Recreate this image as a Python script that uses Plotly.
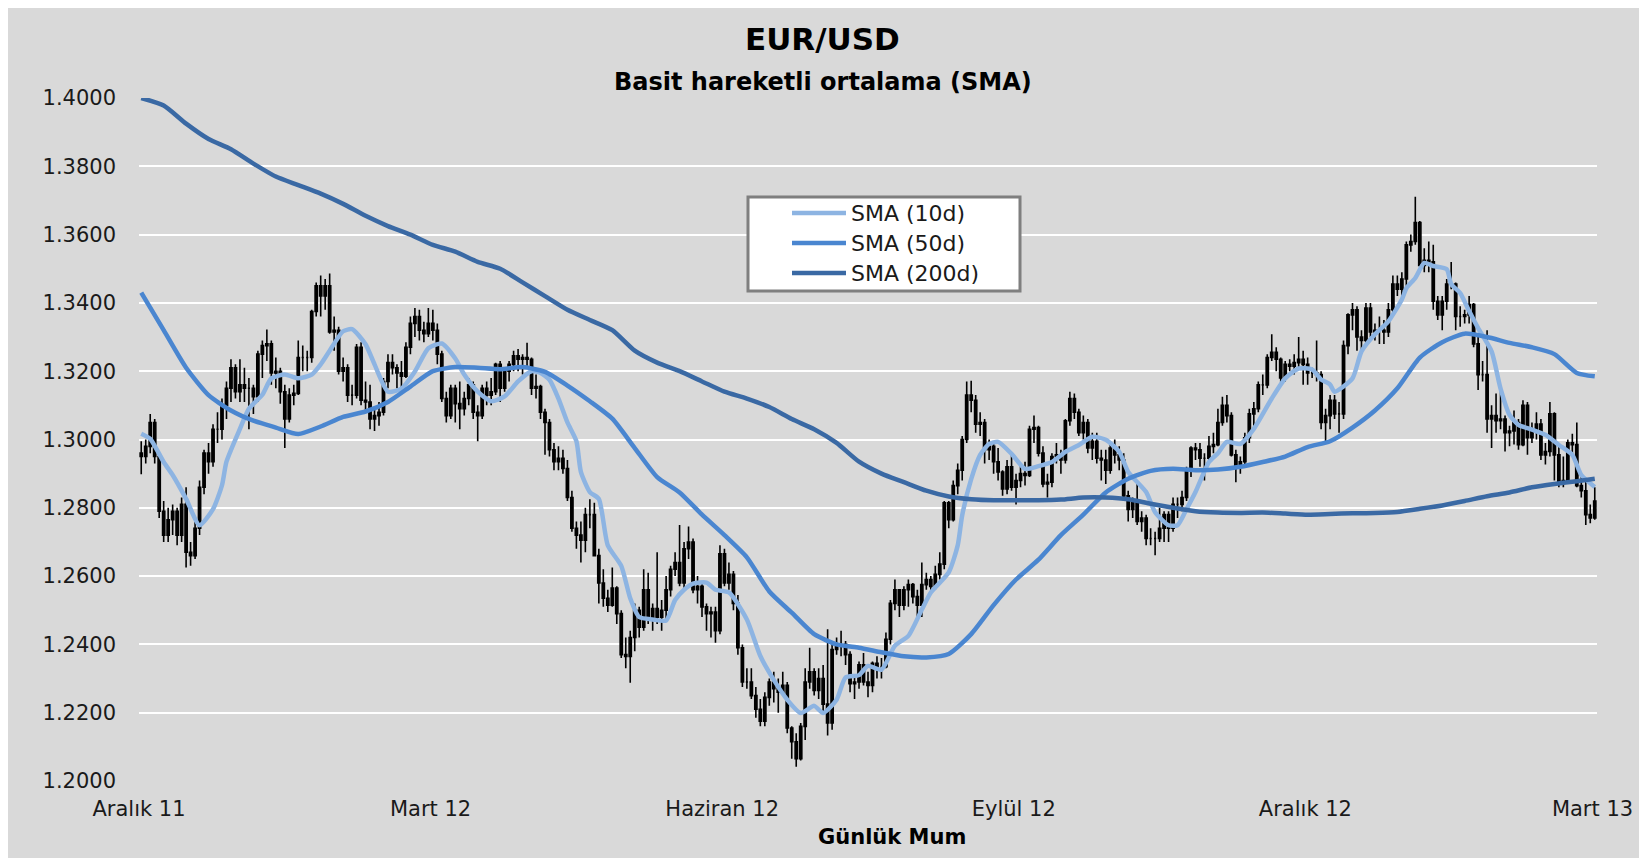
import plotly.graph_objects as go

# ---------------- data (daily EUR/USD candles) ----------------
opens = [
    1.2960, 1.2950, 1.2980, 1.3050, 1.2950, 1.2790, 1.2720, 1.2765, 1.2790, 1.2720,
    1.2810, 1.2670, 1.2660, 1.2740, 1.2860, 1.2960, 1.2935, 1.3030, 1.3030, 1.3100,
    1.3150, 1.3210, 1.3140, 1.3160, 1.3150, 1.3150, 1.3125, 1.3250, 1.3275, 1.3280,
    1.3195, 1.3200, 1.3140, 1.3060, 1.3130, 1.3135, 1.3240, 1.3240, 1.3240, 1.3375,
    1.3450, 1.3420, 1.3450, 1.3315, 1.3320, 1.3200, 1.3210, 1.3130, 1.3130, 1.3270,
    1.3115, 1.3110, 1.3060, 1.3070, 1.3080, 1.3170, 1.3225, 1.3210, 1.3195, 1.3185,
    1.3270, 1.3340, 1.3360, 1.3320, 1.3310, 1.3340, 1.3320, 1.3250, 1.3120, 1.3070,
    1.3150, 1.3105, 1.3090, 1.3120, 1.3160, 1.3080, 1.3070, 1.3150, 1.3130, 1.3140,
    1.3220, 1.3150, 1.3200, 1.3220, 1.3245, 1.3235, 1.3240, 1.3235, 1.3150, 1.3155,
    1.3080, 1.3050, 1.2970, 1.2935, 1.2945, 1.2915, 1.2830, 1.2740, 1.2720, 1.2705,
    1.2780, 1.2780, 1.2660, 1.2580, 1.2535, 1.2515, 1.2565, 1.2490, 1.2370, 1.2365,
    1.2420, 1.2500, 1.2450, 1.2560, 1.2480, 1.2505, 1.2480, 1.2500, 1.2560, 1.2620,
    1.2640, 1.2580, 1.2680, 1.2700, 1.2560, 1.2570, 1.2510, 1.2490, 1.2495, 1.2440,
    1.2665, 1.2580, 1.2605, 1.2520, 1.2390, 1.2290, 1.2290, 1.2250, 1.2210, 1.2175,
    1.2245, 1.2290, 1.2270, 1.2260, 1.2280, 1.2155, 1.2115, 1.2065, 1.2160, 1.2290,
    1.2320, 1.2265, 1.2300, 1.2225, 1.2170, 1.2385, 1.2400, 1.2400, 1.2370, 1.2285,
    1.2290, 1.2340, 1.2290, 1.2280, 1.2345, 1.2335, 1.2335, 1.2415, 1.2520, 1.2560,
    1.2515, 1.2560, 1.2575, 1.2540, 1.2515, 1.2575, 1.2590, 1.2570, 1.2605, 1.2635,
    1.2815, 1.2765, 1.2865, 1.2910, 1.3000, 1.3130, 1.3115, 1.3045, 1.3050, 1.2970,
    1.2980, 1.2935, 1.2905, 1.2855, 1.2920, 1.2860, 1.2880, 1.2900, 1.2895, 1.3030,
    1.3035, 1.2960, 1.2870, 1.2875, 1.2950, 1.2955, 1.2940, 1.3055, 1.3120, 1.3080,
    1.3020, 1.3050, 1.2975, 1.2995, 1.2945, 1.2940, 1.2910, 1.2975, 1.2955, 1.2940,
    1.2835, 1.2795, 1.2815, 1.2760, 1.2770, 1.2710, 1.2710, 1.2710, 1.2740, 1.2780,
    1.2740, 1.2810, 1.2810, 1.2830, 1.2910, 1.2975, 1.2970, 1.2945, 1.2945, 1.2980,
    1.2985, 1.3050, 1.3100, 1.3070, 1.2955, 1.2925, 1.2935, 1.3005, 1.3075, 1.3090,
    1.3160, 1.3160, 1.3240, 1.3255, 1.3235, 1.3180, 1.3220, 1.3215, 1.3225, 1.3235,
    1.3220, 1.3195, 1.3195, 1.3190, 1.3050, 1.3070, 1.3115, 1.3075, 1.3075, 1.3275,
    1.3365, 1.3380, 1.3300, 1.3290, 1.3385, 1.3315, 1.3320, 1.3320, 1.3315, 1.3380,
    1.3455, 1.3440, 1.3470, 1.3570, 1.3580, 1.3635, 1.3510, 1.3525, 1.3520, 1.3405,
    1.3365, 1.3405, 1.3455, 1.3455, 1.3360, 1.3360, 1.3365, 1.3395, 1.3280, 1.3190,
    1.3190, 1.3060, 1.3070, 1.3055, 1.3060, 1.3020, 1.3025, 1.3050, 1.2985, 1.3100,
    1.3005, 1.3025, 1.3045, 1.2955, 1.2965, 1.3075, 1.2955, 1.2875, 1.2880, 1.2990,
    1.2985, 1.2865, 1.2850, 1.2780, 1.2770,
]
highs = [
    1.2995, 1.3000, 1.3075, 1.3060, 1.2960, 1.2820, 1.2800, 1.2810, 1.2800, 1.2830,
    1.2860, 1.2700, 1.2760, 1.2880, 1.2970, 1.2990, 1.3045, 1.3080, 1.3120, 1.3170,
    1.3235, 1.3220, 1.3235, 1.3210, 1.3180, 1.3160, 1.3260, 1.3290, 1.3322, 1.3290,
    1.3240, 1.3210, 1.3160, 1.3150, 1.3160, 1.3290, 1.3275, 1.3260, 1.3380, 1.3460,
    1.3480, 1.3470, 1.3486, 1.3360, 1.3330, 1.3240, 1.3220, 1.3160, 1.3280, 1.3285,
    1.3170, 1.3160, 1.3090, 1.3110, 1.3180, 1.3250, 1.3250, 1.3220, 1.3230, 1.3285,
    1.3360, 1.3385, 1.3380, 1.3345, 1.3385, 1.3380, 1.3340, 1.3260, 1.3140, 1.3160,
    1.3160, 1.3170, 1.3140, 1.3180, 1.3170, 1.3100, 1.3160, 1.3170, 1.3180, 1.3225,
    1.3230, 1.3210, 1.3230, 1.3260, 1.3265, 1.3250, 1.3283, 1.3240, 1.3190, 1.3160,
    1.3090, 1.3060, 1.2990, 1.2980, 1.2970, 1.2940, 1.2850, 1.2760, 1.2760, 1.2800,
    1.2825, 1.2815, 1.2680, 1.2620, 1.2560, 1.2625, 1.2570, 1.2500, 1.2420, 1.2440,
    1.2520, 1.2510, 1.2620, 1.2610, 1.2520, 1.2670, 1.2530, 1.2600, 1.2630, 1.2670,
    1.2750, 1.2700, 1.2745, 1.2710, 1.2600, 1.2580, 1.2520, 1.2510, 1.2510, 1.2690,
    1.2680, 1.2640, 1.2615, 1.2545, 1.2400, 1.2330, 1.2330, 1.2275, 1.2240, 1.2260,
    1.2300, 1.2320, 1.2300, 1.2320, 1.2290, 1.2160, 1.2140, 1.2170, 1.2330, 1.2390,
    1.2330, 1.2330, 1.2340, 1.2444, 1.2405, 1.2420, 1.2440, 1.2410, 1.2380, 1.2310,
    1.2350, 1.2375, 1.2320, 1.2350, 1.2365, 1.2360, 1.2435, 1.2530, 1.2590, 1.2560,
    1.2570, 1.2590, 1.2580, 1.2560, 1.2640, 1.2610, 1.2600, 1.2630, 1.2670, 1.2820,
    1.2820, 1.2880, 1.2930, 1.3010, 1.3170, 1.3172, 1.3130, 1.3080, 1.3060, 1.3000,
    1.2990, 1.2975, 1.2910, 1.2940, 1.2960, 1.2900, 1.2930, 1.2935, 1.3040, 1.3070,
    1.3040, 1.2980, 1.2900, 1.2960, 1.2990, 1.2970, 1.3060, 1.3140, 1.3135, 1.3090,
    1.3070, 1.3060, 1.3020, 1.3020, 1.2970, 1.2970, 1.2990, 1.3000, 1.2980, 1.2960,
    1.2850, 1.2830, 1.2880, 1.2790, 1.2780, 1.2740, 1.2730, 1.2800, 1.2790, 1.2790,
    1.2830, 1.2830, 1.2850, 1.2920, 1.2980, 1.2990, 1.2990, 1.2960, 1.3010, 1.3020,
    1.3090, 1.3125, 1.3130, 1.3080, 1.2970, 1.2950, 1.3020, 1.3090, 1.3110, 1.3170,
    1.3190, 1.3250, 1.3308, 1.3270, 1.3240, 1.3230, 1.3235, 1.3250, 1.3300, 1.3260,
    1.3240, 1.3210, 1.3290, 1.3200, 1.3090, 1.3130, 1.3130, 1.3110, 1.3290, 1.3370,
    1.3400, 1.3390, 1.3320, 1.3400, 1.3400, 1.3340, 1.3360, 1.3350, 1.3400, 1.3480,
    1.3480, 1.3490, 1.3580, 1.3600, 1.3711, 1.3640, 1.3560, 1.3580, 1.3570, 1.3420,
    1.3420, 1.3470, 1.3520, 1.3460, 1.3390, 1.3380, 1.3420, 1.3400, 1.3300, 1.3230,
    1.3320, 1.3100, 1.3135, 1.3150, 1.3070, 1.3040, 1.3085, 1.3060, 1.3115, 1.3110,
    1.3050, 1.3080, 1.3060, 1.2990, 1.3110, 1.3080, 1.2990, 1.2950, 1.3000, 1.3017,
    1.3050, 1.2900, 1.2880, 1.2810, 1.2860,
]
lows = [
    1.2898, 1.2930, 1.2960, 1.2930, 1.2770, 1.2700, 1.2700, 1.2720, 1.2690, 1.2700,
    1.2625, 1.2630, 1.2650, 1.2720, 1.2840, 1.2900, 1.2920, 1.2990, 1.3000, 1.3060,
    1.3110, 1.3120, 1.3110, 1.3110, 1.3030, 1.3075, 1.3110, 1.3180, 1.3230, 1.3160,
    1.3150, 1.3105, 1.2975, 1.3050, 1.3100, 1.3130, 1.3200, 1.3200, 1.3225, 1.3360,
    1.3360, 1.3380, 1.3310, 1.3260, 1.3190, 1.3170, 1.3110, 1.3100, 1.3120, 1.3100,
    1.3080, 1.3030, 1.3025, 1.3040, 1.3070, 1.3150, 1.3190, 1.3150, 1.3150, 1.3180,
    1.3250, 1.3300, 1.3290, 1.3285, 1.3300, 1.3290, 1.3220, 1.3110, 1.3050, 1.3060,
    1.3050, 1.3030, 1.3070, 1.3100, 1.3060, 1.2995, 1.3060, 1.3100, 1.3100, 1.3130,
    1.3110, 1.3140, 1.3170, 1.3200, 1.3200, 1.3190, 1.3210, 1.3130, 1.3120, 1.3060,
    1.2955, 1.2950, 1.2910, 1.2910, 1.2900, 1.2820, 1.2730, 1.2680, 1.2640, 1.2670,
    1.2740, 1.2660, 1.2520, 1.2510, 1.2495, 1.2510, 1.2460, 1.2360, 1.2330, 1.2288,
    1.2380, 1.2420, 1.2440, 1.2460, 1.2440, 1.2460, 1.2440, 1.2470, 1.2540, 1.2600,
    1.2570, 1.2560, 1.2650, 1.2550, 1.2520, 1.2480, 1.2440, 1.2420, 1.2405, 1.2430,
    1.2570, 1.2560, 1.2500, 1.2370, 1.2275, 1.2270, 1.2240, 1.2185, 1.2160, 1.2160,
    1.2220, 1.2230, 1.2200, 1.2250, 1.2140, 1.2065, 1.2042, 1.2060, 1.2120, 1.2270,
    1.2250, 1.2240, 1.2200, 1.2133, 1.2150, 1.2370, 1.2365, 1.2340, 1.2260, 1.2240,
    1.2270, 1.2280, 1.2245, 1.2260, 1.2300, 1.2300, 1.2330, 1.2400, 1.2500, 1.2480,
    1.2500, 1.2510, 1.2520, 1.2480, 1.2480, 1.2560, 1.2545, 1.2560, 1.2590, 1.2620,
    1.2740, 1.2760, 1.2840, 1.2880, 1.2990, 1.3080, 1.3020, 1.3010, 1.2930, 1.2940,
    1.2900, 1.2880, 1.2835, 1.2840, 1.2850, 1.2810, 1.2860, 1.2865, 1.2890, 1.2990,
    1.2950, 1.2860, 1.2830, 1.2860, 1.2930, 1.2900, 1.2930, 1.3040, 1.3060, 1.3010,
    1.3000, 1.2960, 1.2940, 1.2930, 1.2880, 1.2870, 1.2900, 1.2930, 1.2910, 1.2820,
    1.2760, 1.2770, 1.2750, 1.2730, 1.2690, 1.2690, 1.2661, 1.2700, 1.2700, 1.2700,
    1.2730, 1.2770, 1.2790, 1.2820, 1.2890, 1.2940, 1.2920, 1.2880, 1.2940, 1.2960,
    1.2980, 1.3040, 1.3050, 1.2950, 1.2875, 1.2900, 1.2920, 1.2990, 1.3040, 1.3080,
    1.3130, 1.3150, 1.3230, 1.3200, 1.3160, 1.3170, 1.3200, 1.3190, 1.3210, 1.3160,
    1.3160, 1.3180, 1.3170, 1.3030, 1.2995, 1.3030, 1.3060, 1.3020, 1.3060, 1.3250,
    1.3320, 1.3260, 1.3255, 1.3280, 1.3300, 1.3290, 1.3280, 1.3280, 1.3300, 1.3360,
    1.3420, 1.3420, 1.3450, 1.3550, 1.3570, 1.3490, 1.3490, 1.3490, 1.3380, 1.3350,
    1.3320, 1.3380, 1.3440, 1.3320, 1.3330, 1.3340, 1.3340, 1.3270, 1.3145, 1.3170,
    1.3020, 1.2975, 1.3020, 1.3030, 1.2965, 1.2980, 1.2985, 1.2970, 1.2980, 1.2955,
    1.2990, 1.3000, 1.2940, 1.2927, 1.2950, 1.2880, 1.2860, 1.2860, 1.2870, 1.2950,
    1.2860, 1.2830, 1.2750, 1.2755, 1.2765,
]
closes = [
    1.2950, 1.2980, 1.3050, 1.2950, 1.2790, 1.2720, 1.2765, 1.2790, 1.2720, 1.2810,
    1.2670, 1.2660, 1.2740, 1.2860, 1.2960, 1.2935, 1.3030, 1.3030, 1.3100, 1.3150,
    1.3210, 1.3140, 1.3160, 1.3150, 1.3150, 1.3125, 1.3250, 1.3275, 1.3280, 1.3195,
    1.3200, 1.3140, 1.3060, 1.3130, 1.3135, 1.3240, 1.3240, 1.3240, 1.3375, 1.3450,
    1.3420, 1.3450, 1.3315, 1.3320, 1.3200, 1.3210, 1.3130, 1.3130, 1.3270, 1.3115,
    1.3110, 1.3060, 1.3070, 1.3080, 1.3170, 1.3225, 1.3210, 1.3195, 1.3185, 1.3270,
    1.3340, 1.3360, 1.3320, 1.3310, 1.3340, 1.3320, 1.3250, 1.3120, 1.3070, 1.3150,
    1.3105, 1.3090, 1.3120, 1.3160, 1.3080, 1.3070, 1.3150, 1.3130, 1.3140, 1.3220,
    1.3150, 1.3200, 1.3220, 1.3245, 1.3235, 1.3240, 1.3235, 1.3150, 1.3155, 1.3080,
    1.3050, 1.2970, 1.2935, 1.2945, 1.2915, 1.2830, 1.2740, 1.2720, 1.2705, 1.2780,
    1.2780, 1.2660, 1.2580, 1.2535, 1.2515, 1.2565, 1.2490, 1.2370, 1.2365, 1.2420,
    1.2500, 1.2450, 1.2560, 1.2480, 1.2505, 1.2480, 1.2500, 1.2560, 1.2620, 1.2640,
    1.2580, 1.2680, 1.2700, 1.2560, 1.2570, 1.2510, 1.2490, 1.2495, 1.2440, 1.2665,
    1.2580, 1.2605, 1.2520, 1.2390, 1.2290, 1.2290, 1.2250, 1.2210, 1.2175, 1.2245,
    1.2290, 1.2270, 1.2260, 1.2280, 1.2155, 1.2115, 1.2065, 1.2160, 1.2290, 1.2320,
    1.2265, 1.2300, 1.2225, 1.2170, 1.2385, 1.2400, 1.2400, 1.2370, 1.2285, 1.2290,
    1.2340, 1.2290, 1.2280, 1.2345, 1.2335, 1.2335, 1.2415, 1.2520, 1.2560, 1.2515,
    1.2560, 1.2575, 1.2540, 1.2515, 1.2575, 1.2590, 1.2570, 1.2605, 1.2635, 1.2815,
    1.2765, 1.2865, 1.2910, 1.3000, 1.3130, 1.3115, 1.3045, 1.3050, 1.2970, 1.2980,
    1.2935, 1.2905, 1.2855, 1.2920, 1.2860, 1.2880, 1.2900, 1.2895, 1.3030, 1.3035,
    1.2960, 1.2870, 1.2875, 1.2950, 1.2955, 1.2940, 1.3055, 1.3120, 1.3080, 1.3020,
    1.3050, 1.2975, 1.2995, 1.2945, 1.2940, 1.2910, 1.2975, 1.2955, 1.2940, 1.2835,
    1.2795, 1.2815, 1.2760, 1.2770, 1.2710, 1.2710, 1.2710, 1.2740, 1.2780, 1.2740,
    1.2810, 1.2810, 1.2830, 1.2910, 1.2975, 1.2970, 1.2945, 1.2945, 1.2980, 1.2985,
    1.3050, 1.3100, 1.3070, 1.2955, 1.2925, 1.2935, 1.3005, 1.3075, 1.3090, 1.3160,
    1.3160, 1.3240, 1.3255, 1.3235, 1.3180, 1.3220, 1.3215, 1.3225, 1.3235, 1.3220,
    1.3195, 1.3195, 1.3190, 1.3050, 1.3070, 1.3115, 1.3075, 1.3075, 1.3275, 1.3365,
    1.3380, 1.3300, 1.3290, 1.3385, 1.3315, 1.3320, 1.3320, 1.3315, 1.3380, 1.3455,
    1.3440, 1.3470, 1.3570, 1.3580, 1.3635, 1.3510, 1.3525, 1.3520, 1.3405, 1.3365,
    1.3405, 1.3455, 1.3455, 1.3360, 1.3360, 1.3365, 1.3395, 1.3280, 1.3190, 1.3190,
    1.3060, 1.3070, 1.3055, 1.3060, 1.3020, 1.3025, 1.3050, 1.2985, 1.3100, 1.3005,
    1.3025, 1.3045, 1.2955, 1.2965, 1.3075, 1.2955, 1.2875, 1.2880, 1.2990, 1.2985,
    1.2865, 1.2850, 1.2780, 1.2770, 1.2820,
]
bar_index = list(range(len(closes)))

# SMA lines (bar index, value)
sma10_idx = [0, 2, 5, 7, 10, 13, 16, 18, 19, 22, 24, 27, 29, 32, 35, 38, 40, 42, 45, 47,
             50, 52, 55, 58, 61, 64, 67, 70, 72, 75, 78, 81, 84, 87, 89, 91, 93, 95, 97, 98,
             100, 102, 104, 107, 109, 111, 114, 117, 119, 121, 123, 126, 128, 131, 135, 138,
             141, 144, 147, 150, 152, 155, 157, 160, 162, 165, 168, 171, 174, 176, 180, 182,
             183, 185, 187, 189, 191, 194, 197, 200, 203, 206, 209, 212, 215, 218, 220, 224,
             226, 229, 231, 233, 235, 238, 240, 242, 245, 248, 252, 255, 258, 261, 263, 265,
             266, 270, 272, 275, 278, 281, 282, 284, 286, 288, 291, 292, 294, 296, 298, 301,
             303, 305, 307, 310, 313, 316, 319, 321, 324]
sma10 = [1.3017, 1.3002, 1.2934, 1.2896, 1.2826, 1.2749, 1.2796, 1.2866, 1.2935, 1.3031,
         1.3090, 1.3131, 1.3179, 1.3190, 1.3179, 1.3190, 1.3220, 1.3260, 1.3317, 1.3323,
         1.3279, 1.3220, 1.3140, 1.3149, 1.3199, 1.3267, 1.3281, 1.3237, 1.3190, 1.3140,
         1.3112, 1.3126, 1.3170, 1.3200, 1.3195, 1.3175, 1.3120, 1.3050, 1.2995, 1.2905,
         1.2846, 1.2826, 1.2690, 1.2630, 1.2535, 1.2480, 1.2473, 1.2470, 1.2530, 1.2560,
         1.2578, 1.2581, 1.2560, 1.2552, 1.2473, 1.2366, 1.2296, 1.2238, 1.2199, 1.2220,
         1.2199, 1.2238, 1.2303, 1.2310, 1.2337, 1.2326, 1.2396, 1.2425, 1.2502, 1.2552,
         1.2611, 1.2690, 1.2778, 1.2884, 1.2955, 1.2987, 1.2993, 1.2958, 1.2914, 1.2922,
         1.2934, 1.2964, 1.2984, 1.3008, 1.2999, 1.2964, 1.2905, 1.2846, 1.2787, 1.2749,
         1.2749, 1.2796, 1.2846, 1.2934, 1.2960, 1.2993, 1.2987, 1.3031, 1.3120, 1.3179,
         1.3208, 1.3205, 1.3176, 1.3161, 1.3140, 1.3179, 1.3258, 1.3308, 1.3346, 1.3410,
         1.3443, 1.3473, 1.3517, 1.3508, 1.3499, 1.3455, 1.3429, 1.3376, 1.3326, 1.3258,
         1.3149, 1.3072, 1.3043, 1.3029, 1.3014, 1.2984, 1.2955, 1.2896, 1.2861]

sma50_idx = list(range(0, 325, 5)) + [324]
sma50 = [1.3430, 1.3320, 1.3210, 1.3130, 1.3085, 1.3055, 1.3035, 1.3016, 1.3038, 1.3066,
         1.3082, 1.3110, 1.3155, 1.3200, 1.3212, 1.3210, 1.3206, 1.3212, 1.3198, 1.3158,
         1.3112, 1.3061, 1.2975, 1.2890, 1.2845, 1.2780, 1.2720, 1.2655, 1.2555, 1.2493,
         1.2430, 1.2400, 1.2390, 1.2377, 1.2365, 1.2362, 1.2372, 1.2430, 1.2515, 1.2590,
         1.2648, 1.2720, 1.2780, 1.2845, 1.2885, 1.2908, 1.2914, 1.2910, 1.2912, 1.2920,
         1.2934, 1.2950, 1.2978, 1.2995, 1.3035, 1.3085, 1.3150, 1.3240, 1.3285, 1.3310,
         1.3300, 1.3283, 1.3270, 1.3250, 1.3195, 1.3185]

sma200_idx = list(range(0, 325, 5)) + [324]
sma200 = [1.4000, 1.3978, 1.3925, 1.3880, 1.3850, 1.3808, 1.3770, 1.3745, 1.3720, 1.3690,
          1.3655, 1.3625, 1.3600, 1.3570, 1.3550, 1.3520, 1.3500, 1.3460, 1.3420, 1.3380,
          1.3350, 1.3320, 1.3260, 1.3225, 1.3200, 1.3170, 1.3140, 1.3120, 1.3095, 1.3060,
          1.3030, 1.2990, 1.2935, 1.2900, 1.2875, 1.2850, 1.2833, 1.2825, 1.2822, 1.2822,
          1.2822, 1.2824, 1.2830, 1.2830, 1.2825, 1.2812, 1.2800, 1.2790, 1.2786, 1.2785,
          1.2786, 1.2783, 1.2780, 1.2782, 1.2784, 1.2785, 1.2788, 1.2797, 1.2807, 1.2820,
          1.2834, 1.2845, 1.2860, 1.2870, 1.2878, 1.2885]

tick_positions = [-0.5, 64.5, 129.5, 194.5, 259.5, 323.5]
tick_labels = ["Aralık 11", "Mart 12", "Haziran 12", "Eylül 12", "Aralık 12", "Mart 13"]
series_names = ["SMA (10d)", "SMA (50d)", "SMA (200d)"]
series_colors = ["#8db4e2", "#4a86d0", "#3a69a4"]

# ---------------- figure ----------------
FONT = "DejaVu Sans"
TXT = "#1a1a1a"
BG = "#d9d9d9"

fig = go.Figure()
fig.add_trace(go.Candlestick(
    x=bar_index, open=opens, high=highs, low=lows, close=closes,
    increasing=dict(line=dict(color="black", width=1.6), fillcolor="black"),
    decreasing=dict(line=dict(color="black", width=1.6), fillcolor="black"),
    whiskerwidth=0, showlegend=False, hoverinfo="skip",
))
for xs, ys, nm, col in [(sma10_idx, sma10, series_names[0], series_colors[0]),
                        (sma50_idx, sma50, series_names[1], series_colors[1]),
                        (sma200_idx, sma200, series_names[2], series_colors[2])]:
    fig.add_trace(go.Scatter(x=xs, y=ys, mode="lines", name=nm, showlegend=False,
                             line=dict(color=col, width=4.5, shape="spline", smoothing=0.6)))

# figure sits inside the page's 8px body margin
W, H = 1631, 850
L, R, T, B = 131, 42, 90, 77
pw, ph = W - L - R, H - T - B


def px(x):
    return (x - L) / pw


def py(y):
    return (H - B - y) / ph


# legend box drawn like the original (wide box, long line samples)
shapes = [dict(type="rect", xref="paper", yref="paper",
               x0=px(740), x1=px(1012), y0=py(283), y1=py(189),
               fillcolor="white", line=dict(color="#7f7f7f", width=3), layer="above")]
annotations = []
row_y = [205, 235, 265]
for i in range(3):
    shapes.append(dict(type="line", xref="paper", yref="paper",
                       x0=px(784), x1=px(838), y0=py(row_y[i]), y1=py(row_y[i]),
                       line=dict(color=series_colors[i], width=4.5), layer="above"))
    annotations.append(dict(text=series_names[i], x=px(841), y=py(row_y[i]),
                            xref="paper", yref="paper", showarrow=False,
                            xanchor="left", yanchor="middle",
                            font=dict(size=22, color=TXT, family=FONT)))

annotations += [
    dict(text="<b>EUR/USD</b>", x=px(814), y=py(31), xref="paper", yref="paper",
         showarrow=False, font=dict(size=31, color="#000000", family=FONT),
         xanchor="center", yanchor="middle"),
    dict(text="<b>Basit hareketli ortalama (SMA)</b>", x=px(815), y=py(74),
         xref="paper", yref="paper", showarrow=False,
         font=dict(size=24, color="#000000", family=FONT),
         xanchor="center", yanchor="middle"),
    dict(text="<b>Günlük Mum</b>", x=px(884), y=py(829), xref="paper", yref="paper",
         showarrow=False, font=dict(size=21, color="#000000", family=FONT),
         xanchor="center", yanchor="middle"),
]

fig.update_layout(
    width=W, height=H,
    margin=dict(l=L, r=R, t=T, b=B, autoexpand=False),
    paper_bgcolor=BG, plot_bgcolor=BG,
    font=dict(family=FONT, color=TXT, size=21),
    xaxis=dict(
        range=[-0.5, 324.5], rangeslider=dict(visible=False), automargin=False,
        tickmode="array", tickvals=tick_positions, ticktext=tick_labels,
        showgrid=False, zeroline=False, showline=False, ticks="",
        ticklabeloverflow="allow",
        tickfont=dict(size=21, color=TXT, family=FONT), ticklabelstandoff=13,
    ),
    yaxis=dict(
        range=[1.20, 1.40], dtick=0.02, tick0=1.20, tickformat=".4f", automargin=False,
        showgrid=True, gridcolor="white", gridwidth=2, zeroline=False,
        showline=False, ticks="", tickfont=dict(size=21, color=TXT, family=FONT),
        ticklabelstandoff=22,
    ),
    showlegend=False,
    shapes=shapes,
    annotations=annotations,
)

fig.write_html("out.html")
